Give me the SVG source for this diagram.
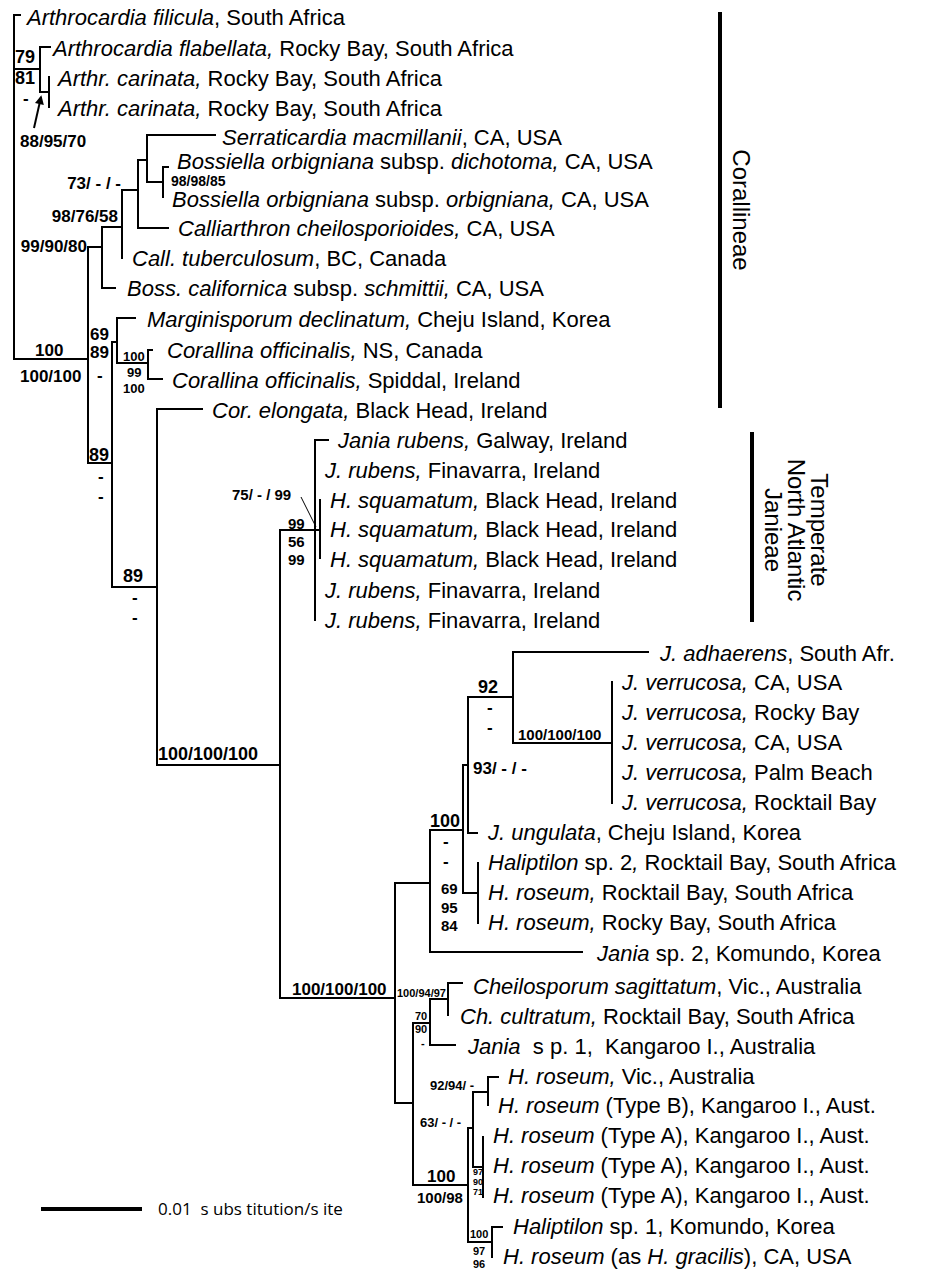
<svg xmlns="http://www.w3.org/2000/svg" width="925" height="1272" viewBox="0 0 925 1272">
<defs>
<style>
.tx{font-family:"Liberation Sans",Arial,sans-serif;font-size:22px;fill:#000}
.i{font-style:italic}
.b{font-family:"Liberation Sans",Arial,sans-serif;font-weight:bold;font-size:17px;fill:#000}
.b18{font-size:18px}
.b15{font-size:15px}
.b14{font-size:14px}
.b13{font-size:13px}
.b11{font-size:11px}
.b9{font-size:9px}
.br{stroke:#000;stroke-width:2;fill:none;stroke-linecap:square}
.thin{stroke:#000;stroke-width:1;fill:none}
.clade{font-family:"Liberation Sans",Arial,sans-serif;font-size:24px;fill:#000}
.scale{font-family:"Open Sans","DejaVu Sans",sans-serif;font-size:17px;fill:#000}
</style>
<marker id="ah" viewBox="0 0 10 10" refX="8" refY="5" markerWidth="10" markerHeight="9" orient="auto-start-reverse" markerUnits="userSpaceOnUse">
<path d="M0,0 L10,5 L0,10 z" fill="#000"/>
</marker>
</defs>
<rect width="925" height="1272" fill="#fff"/>

<g id="connectors">
<path class="br" d="M14,15 H20 M14,15 V359 M14,69 H40 M14,359 H88
M40,47 V92 M40,47 H50 M40,92 H49 M49,77 V107
M88,247 V463 M88,247 H102 M88,463 H112
M102,227 V288 M102,227 H122 M102,288 H115
M122,190 V258 M122,190 H138
M138,160 V228 M138,228 H168 M138,160 H147
M147,135 V182 M147,135 H215 M147,182 H163
M163,167 V197 M163,167 H168
M112,342 V587 M112,342 H117 M112,587 H157
M117,318 V363 M117,318 H135 M117,363 H148
M148,350 V379 M148,350 H152 M148,379 H162
M157,409 V765 M157,409 H202 M157,765 H280
M280,530 V998 M280,530 H320 M280,998 H395
M315,440 V620 M315,440 H328 M320,500 V558
M395,883 V1103 M395,883 H430 M395,1103 H413
M430,830 V952 M430,830 H463 M430,952 H582
M463,765 V893 M463,765 H468 M463,893 H478
M468,697 V833 M468,697 H513 M468,833 H477
M513,652 V743 M513,652 H648 M513,743 H612
M612,682 V803
M478,863 V923
M413,1023 V1185 M413,1023 H430 M413,1185 H468
M430,999 V1045 M430,999 H448 M430,1045 H455
M448,983 V1015 M448,983 H462
M468,1128 V1242 M468,1128 H473 M468,1242 H492
M473,1092 V1167 M473,1092 H488 M473,1167 H483
M488,1077 V1105 M488,1077 H498
M483,1137 V1197
M492,1227 V1257 M492,1227 H502"/>
<path d="M34,128 L41,97" stroke="#000" stroke-width="2" fill="none" marker-end="url(#ah)"/>
<path class="thin" d="M301,497 L316,527"/>
</g>

<g id="support">
<text class="b b18" x="15" y="63">79</text>
<text class="b b18" x="15" y="84">81</text>
<text class="b" x="23" y="104">-</text>
<text class="b" x="20" y="147">88/95/70</text>
<text class="b" x="121" y="189" text-anchor="end">73/ - / -</text>
<text class="b b14" x="171" y="186">98/98/85</text>
<text class="b" x="118" y="222" text-anchor="end">98/76/58</text>
<text class="b" x="87" y="252" text-anchor="end">99/90/80</text>
<text class="b" x="35" y="356">100</text>
<text class="b" x="20" y="382">100/100</text>
<text class="b" x="90" y="340">69</text>
<text class="b" x="90" y="358">89</text>
<text class="b" x="97" y="381">-</text>
<text class="b b13" x="123" y="361">100</text>
<text class="b b13" x="127" y="377">99</text>
<text class="b b13" x="123" y="393">100</text>
<text class="b b18" x="89" y="461">89</text>
<text class="b" x="98" y="482">-</text>
<text class="b" x="98" y="502">-</text>
<text class="b b18" x="123" y="582">89</text>
<text class="b" x="132" y="603">-</text>
<text class="b" x="132" y="623">-</text>
<text class="b b15" x="232" y="500">75/ - / 99</text>
<text class="b b15" x="288" y="529">99</text>
<text class="b b15" x="288" y="547">56</text>
<text class="b b15" x="288" y="565">99</text>
<text class="b b18" x="158" y="760">100/100/100</text>
<text class="b b18" x="478" y="693">92</text>
<text class="b" x="487" y="713">-</text>
<text class="b" x="487" y="733">-</text>
<text class="b b15" x="518" y="740">100/100/100</text>
<text class="b" x="473" y="774">93/ - / -</text>
<text class="b b18" x="430" y="827">100</text>
<text class="b" x="443" y="847">-</text>
<text class="b" x="443" y="867">-</text>
<text class="b b15" x="441" y="894">69</text>
<text class="b b15" x="441" y="913">95</text>
<text class="b b15" x="441" y="931">84</text>
<text class="b" x="292" y="995">100/100/100</text>
<text class="b b11" x="397" y="997">100/94/97</text>
<text class="b b11" x="415" y="1020">70</text>
<text class="b b11" x="415" y="1033">90</text>
<text class="b b11" x="421" y="1047">-</text>
<text class="b b13" x="430" y="1090">92/94/ -</text>
<text class="b b13" x="420" y="1127">63/ - / -</text>
<text class="b" x="427" y="1182">100</text>
<text class="b b15" x="417" y="1203">100/98</text>
<text class="b b9" x="473" y="1175">97</text>
<text class="b b9" x="473" y="1185">90</text>
<text class="b b9" x="473" y="1195">71</text>
<text class="b b11" x="470" y="1238">100</text>
<text class="b b11" x="473" y="1255">97</text>
<text class="b b11" x="473" y="1268">96</text>
</g>

<g id="t01"><text class="tx" x="27" y="25"><tspan class="i">Arthrocardia filicula</tspan>, South Africa</text></g>
<g id="t02"><text class="tx" x="53" y="56"><tspan class="i">Arthrocardia flabellata,</tspan> Rocky Bay, South Africa</text></g>
<g id="t03"><text class="tx" x="58" y="86"><tspan class="i">Arthr. carinata,</tspan> Rocky Bay, South Africa</text></g>
<g id="t04"><text class="tx" x="58" y="116"><tspan class="i">Arthr. carinata,</tspan> Rocky Bay, South Africa</text></g>
<g id="t05"><text class="tx" x="222" y="145"><tspan class="i">Serraticardia macmillanii</tspan>, CA, USA</text></g>
<g id="t06"><text class="tx" x="177" y="169"><tspan class="i">Bossiella orbigniana</tspan> subsp. <tspan class="i">dichotoma,</tspan> CA, USA</text></g>
<g id="t07"><text class="tx" x="172" y="207"><tspan class="i">Bossiella orbigniana</tspan> subsp. <tspan class="i">orbigniana,</tspan> CA, USA</text></g>
<g id="t08"><text class="tx" x="178" y="236"><tspan class="i">Calliarthron cheilosporioides,</tspan> CA, USA</text></g>
<g id="t09"><text class="tx" x="132" y="266"><tspan class="i">Call. tuberculosum</tspan>, BC, Canada</text></g>
<g id="t10"><text class="tx" x="127" y="296"><tspan class="i">Boss. californica</tspan> subsp. <tspan class="i">schmittii,</tspan> CA, USA</text></g>
<g id="t11"><text class="tx" x="147" y="327"><tspan class="i">Marginisporum declinatum,</tspan> Cheju Island, Korea</text></g>
<g id="t12"><text class="tx" x="167" y="358"><tspan class="i">Corallina officinalis,</tspan> NS, Canada</text></g>
<g id="t13"><text class="tx" x="172" y="388"><tspan class="i">Corallina officinalis,</tspan> Spiddal, Ireland</text></g>
<g id="t14"><text class="tx" x="212" y="418"><tspan class="i">Cor. elongata,</tspan> Black Head, Ireland</text></g>
<g id="t15"><text class="tx" x="338" y="448"><tspan class="i">Jania rubens,</tspan> Galway, Ireland</text></g>
<g id="t16"><text class="tx" x="325" y="478"><tspan class="i">J. rubens,</tspan> Finavarra, Ireland</text></g>
<g id="t17"><text class="tx" x="330" y="508"><tspan class="i">H. squamatum,</tspan> Black Head, Ireland</text></g>
<g id="t18"><text class="tx" x="330" y="537"><tspan class="i">H. squamatum,</tspan> Black Head, Ireland</text></g>
<g id="t19"><text class="tx" x="330" y="567"><tspan class="i">H. squamatum,</tspan> Black Head, Ireland</text></g>
<g id="t20"><text class="tx" x="325" y="598"><tspan class="i">J. rubens,</tspan> Finavarra, Ireland</text></g>
<g id="t21"><text class="tx" x="325" y="628"><tspan class="i">J. rubens,</tspan> Finavarra, Ireland</text></g>
<g id="t22"><text class="tx" x="660" y="661"><tspan class="i">J. adhaerens</tspan>, South Afr.</text></g>
<g id="t23"><text class="tx" x="622" y="690"><tspan class="i">J. verrucosa,</tspan> CA, USA</text></g>
<g id="t24"><text class="tx" x="622" y="720"><tspan class="i">J. verrucosa,</tspan> Rocky Bay</text></g>
<g id="t25"><text class="tx" x="622" y="750"><tspan class="i">J. verrucosa,</tspan> CA, USA</text></g>
<g id="t26"><text class="tx" x="622" y="780"><tspan class="i">J. verrucosa,</tspan> Palm Beach</text></g>
<g id="t27"><text class="tx" x="622" y="810"><tspan class="i">J. verrucosa,</tspan> Rocktail Bay</text></g>
<g id="t28"><text class="tx" x="488" y="840"><tspan class="i">J. ungulata</tspan>, Cheju Island, Korea</text></g>
<g id="t29"><text class="tx" x="488" y="870"><tspan class="i">Haliptilon</tspan> sp. 2<tspan class="i">,</tspan> Rocktail Bay, South Africa</text></g>
<g id="t30"><text class="tx" x="488" y="900"><tspan class="i">H. roseum,</tspan> Rocktail Bay, South Africa</text></g>
<g id="t31"><text class="tx" x="488" y="930"><tspan class="i">H. roseum,</tspan> Rocky Bay, South Africa</text></g>
<g id="t32"><text class="tx" x="597" y="961"><tspan class="i">Jania</tspan> sp. 2, Komundo, Korea</text></g>
<g id="t33"><text class="tx" x="473" y="994"><tspan class="i">Cheilosporum sagittatum</tspan>, Vic., Australia</text></g>
<g id="t34"><text class="tx" x="460" y="1024"><tspan class="i">Ch. cultratum,</tspan> Rocktail Bay, South Africa</text></g>
<g id="t35"><text class="tx" x="468" y="1054" xml:space="preserve"><tspan class="i">Jania</tspan>  s p. 1,  Kangaroo I., Australia</text></g>
<g id="t36"><text class="tx" x="508" y="1084"><tspan class="i">H. roseum,</tspan> Vic., Australia</text></g>
<g id="t37"><text class="tx" x="498" y="1113"><tspan class="i">H. roseum</tspan> (Type B), Kangaroo I., Aust.</text></g>
<g id="t38"><text class="tx" x="493" y="1143"><tspan class="i">H. roseum</tspan> (Type A), Kangaroo I., Aust.</text></g>
<g id="t39"><text class="tx" x="493" y="1173"><tspan class="i">H. roseum</tspan> (Type A), Kangaroo I., Aust.</text></g>
<g id="t40"><text class="tx" x="493" y="1203"><tspan class="i">H. roseum</tspan> (Type A), Kangaroo I., Aust.</text></g>
<g id="t41"><text class="tx" x="513" y="1234"><tspan class="i">Haliptilon</tspan> sp. 1, Komundo, Korea</text></g>
<g id="t42"><text class="tx" x="503" y="1264"><tspan class="i">H. roseum</tspan> (as <tspan class="i">H. gracilis</tspan>), CA, USA</text></g>

<g id="clade-corallineae">
<rect x="718" y="12" width="4" height="396" fill="#000"/>
<text class="clade" transform="translate(733,210) rotate(90)" text-anchor="middle">Corallineae</text>
</g>
<g id="clade-janieae">
<rect x="750" y="432" width="4" height="190" fill="#000"/>
<text class="clade" transform="translate(811,530) rotate(90)" text-anchor="middle">Temperate</text>
<text class="clade" transform="translate(788,530) rotate(90)" text-anchor="middle">North Atlantic</text>
<text class="clade" transform="translate(765,530) rotate(90)" text-anchor="middle">Janieae</text>
</g>
<g id="scalebar">
<rect x="41" y="1207" width="101" height="4" fill="#000"/>
<text class="scale" x="158" y="1215" xml:space="preserve">0.01  s ubs titution/s ite</text>
</g>
</svg>
